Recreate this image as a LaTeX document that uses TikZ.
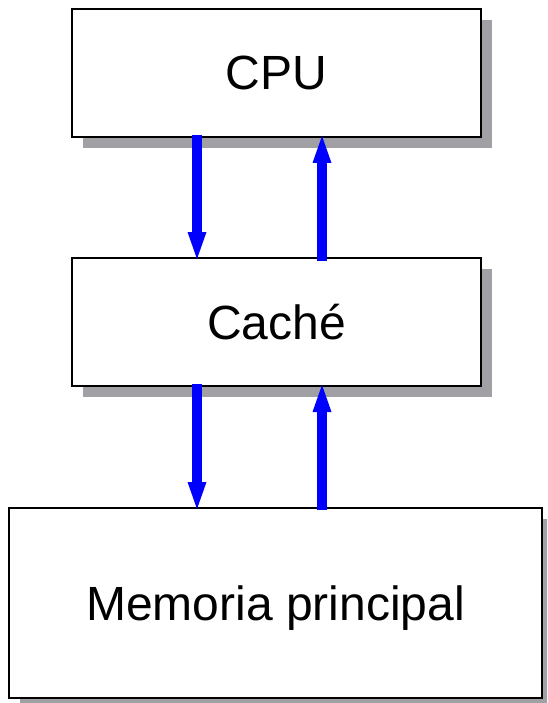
\documentclass[tikz,border=0pt]{standalone}
\usepackage{fontspec}
\setmainfont{Liberation Sans}
\usetikzlibrary{arrows.meta,shadows}

\definecolor{shadowgray}{RGB}{160,160,165}
\definecolor{flowblue}{RGB}{0,0,255}

\tikzset{
  unitbox/.style={
    draw=black, line width=2pt, fill=white, inner sep=0pt,
    text height=34pt, text depth=0pt,
    font=\fontsize{48}{58}\selectfont,
    drop shadow={shadow xshift=11pt, shadow yshift=-11pt,
                 fill=shadowgray, opacity=1}
  },
  flowline/.style={
    draw=flowblue, line width=10pt,
    -{Triangle[length=27pt,width=19pt,line width=0pt]}
  }
}

\begin{document}
\begin{tikzpicture}[x=1pt,y=-1pt]
  \useasboundingbox (0,0) rectangle (547,703);
  \clip (0,0) rectangle (547,703);

  % the three storage levels
  \node[unitbox, minimum width=409pt, minimum height=128pt] (cpu)    at (276.5,73)  {CPU};
  \node[unitbox, minimum width=409pt, minimum height=128pt] (cache)  at (276.5,322) {Caché};
  \node[unitbox, minimum width=533pt, minimum height=190pt] (memory) at (275.5,603) {Memoria principal};

  % transfers between CPU and cache
  \draw[flowline] ([xshift=-79.5pt,yshift=3pt]cpu.south)    -- ([xshift=-79.5pt,yshift=-2pt]cache.north);
  \draw[flowline] ([xshift=45.5pt,yshift=-4pt]cache.north)  -- ([xshift=45.5pt,yshift=2pt]cpu.south);

  % transfers between cache and main memory
  \draw[flowline] ([xshift=-79.5pt,yshift=3pt]cache.south)  -- ([xshift=-78.5pt,yshift=-2pt]memory.north);
  \draw[flowline] ([xshift=46.5pt,yshift=-3pt]memory.north) -- ([xshift=45.5pt,yshift=2pt]cache.south);
\end{tikzpicture}
\end{document}
